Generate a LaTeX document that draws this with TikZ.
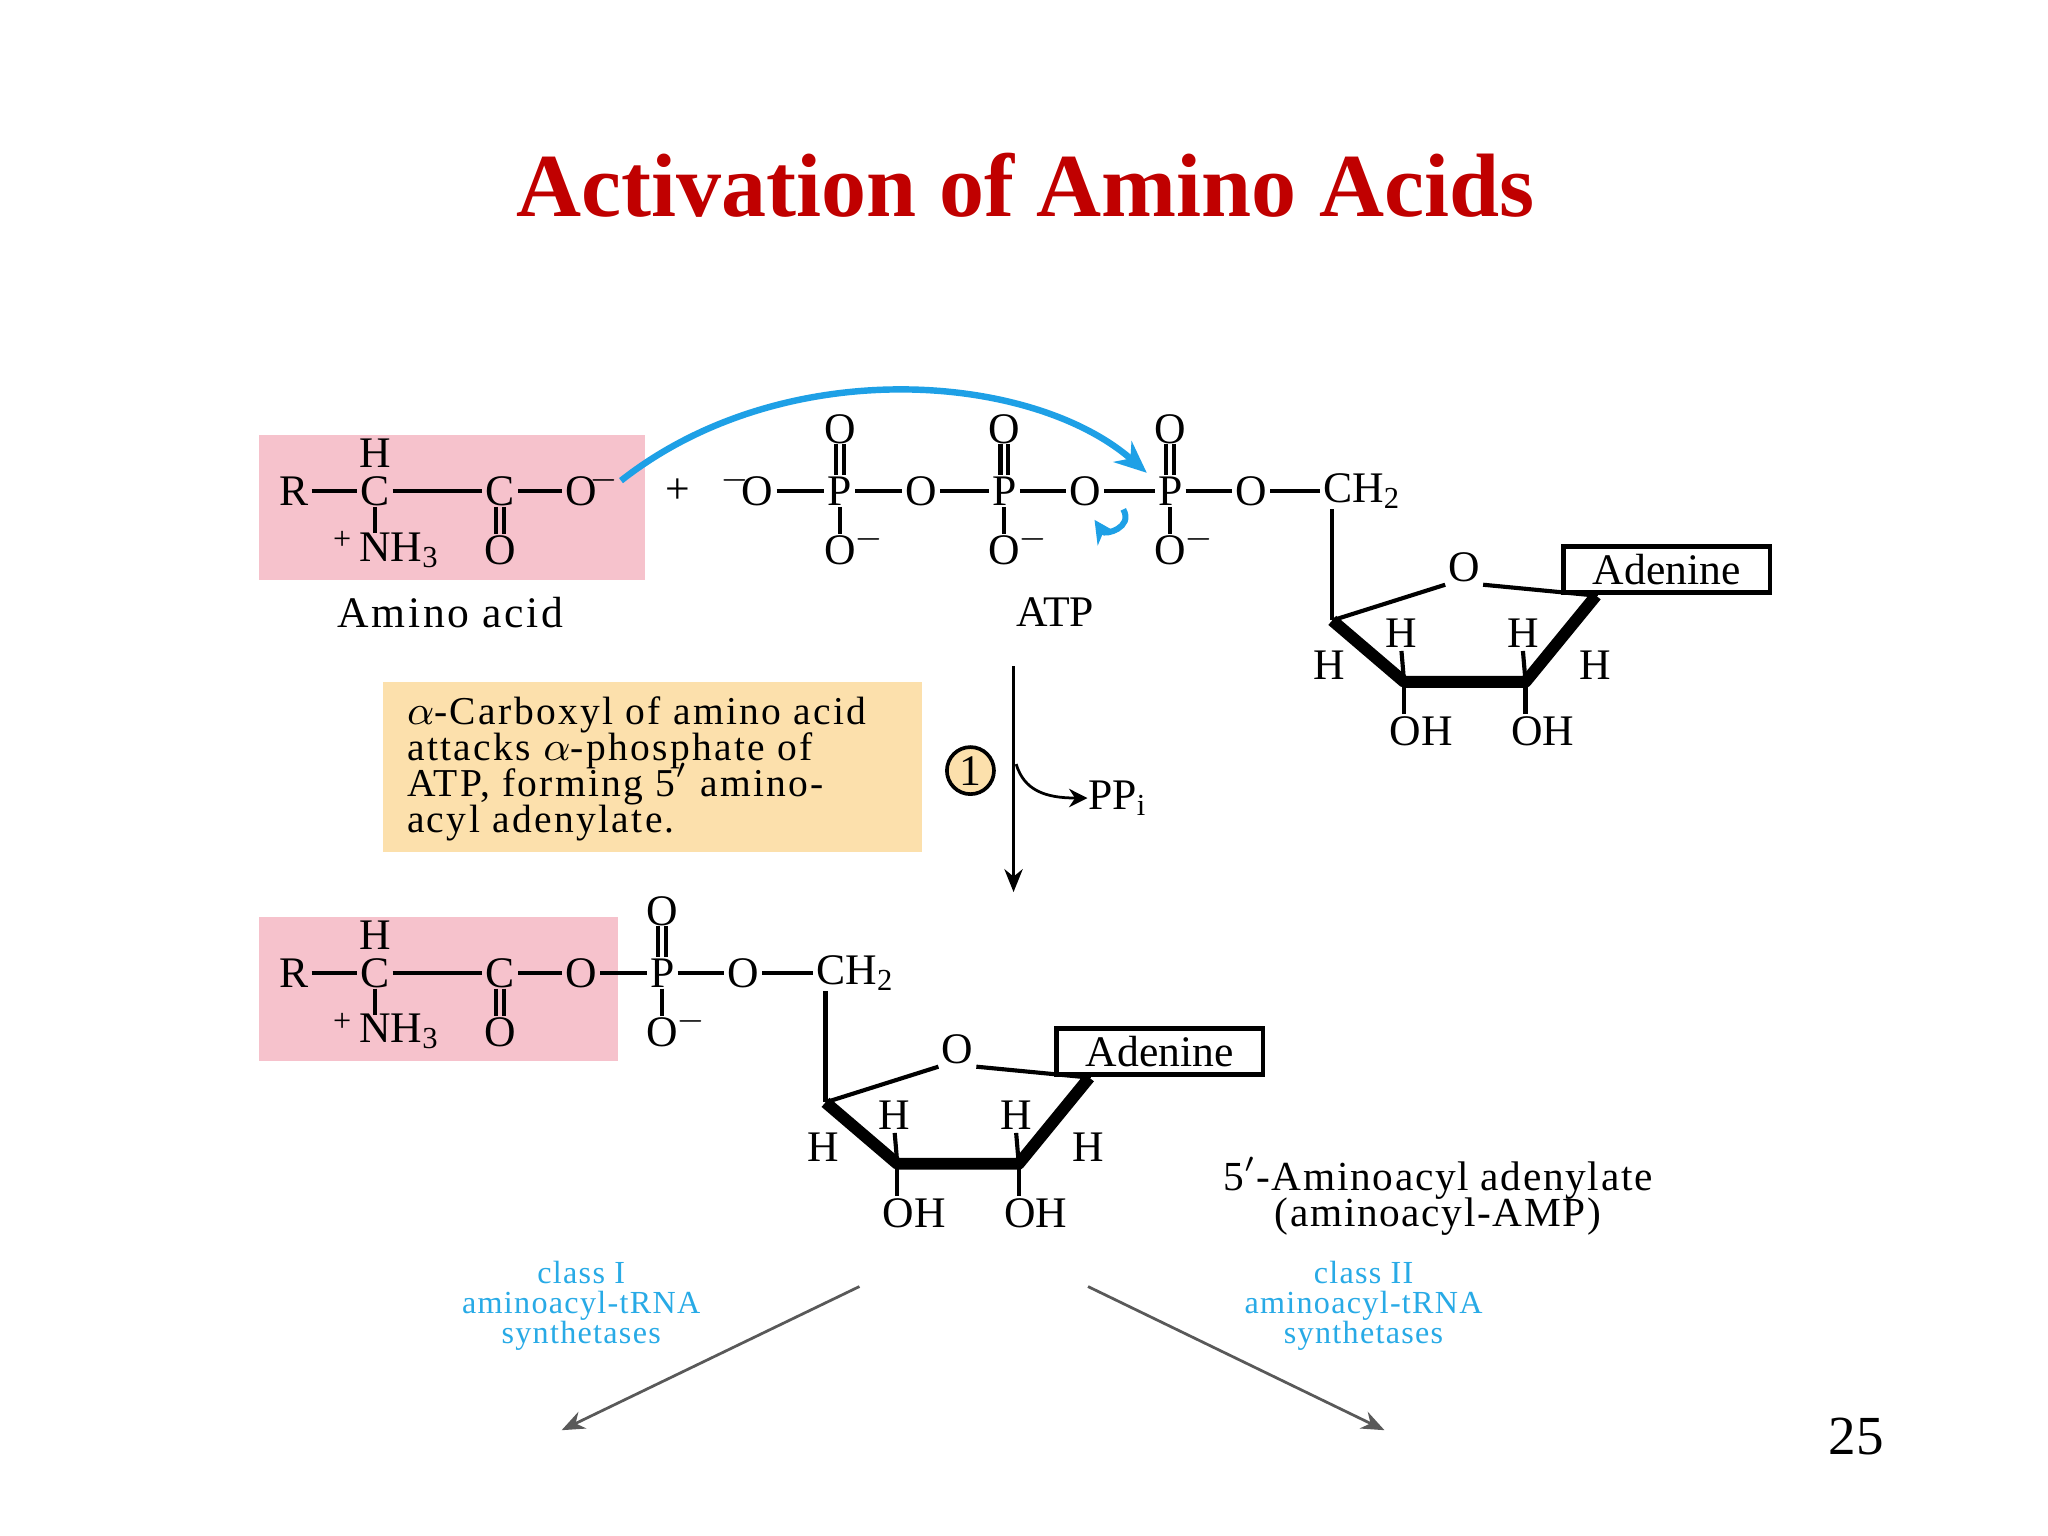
\documentclass[tikz,border=0pt]{standalone}
\usepackage{fontspec}
\setmainfont{Liberation Serif}
\newfontfamily\widefont[LetterSpace=6]{Liberation Serif}
\newfontfamily\midfont[LetterSpace=4]{Liberation Serif}
\newcommand\notefont{\widefont\fontsize{8.6}{7.8}\selectfont\lineskiplimit=-5pt\relax}
\newcommand\prodfont{\midfont\fontsize{9}{7.9}\selectfont\lineskiplimit=-5pt\relax}
\newcommand\clsfont{\midfont\fontsize{7}{6.5}\selectfont\lineskiplimit=-5pt\relax}
\usetikzlibrary{arrows.meta}
\definecolor{titlered}{RGB}{192,0,0}
\definecolor{pinkbox}{RGB}{246,194,204}
\definecolor{yelbox}{RGB}{252,224,172}
\definecolor{arrblue}{RGB}{30,160,230}
\definecolor{lblblue}{RGB}{40,170,230}
\tikzset{
  atom/.style={inner sep=0.5pt, font=\fontsize{9.5}{11}\selectfont},
  bond/.style={line width=0.9pt},
  lbl/.style={font=\fontsize{9.5}{11}\selectfont, inner sep=0pt},
  cls/.style={font=\clsfont, text=lblblue, align=center, inner sep=0pt},
  rxn/.style={-{Stealth[length=5pt,width=4pt]}, line width=0.6pt, draw=gray!70!black}
}
\newcommand\myribose[1]{%
  \coordinate (#1c4) at (1020,475);
  \node[atom] (#1o) at (1121,434) {O};
  \coordinate (#1c1) at (1222,456);
  \coordinate (#1c2) at (1168,522);
  \coordinate (#1c3) at (1075,522);
  \draw[bond] (1020,390) -- (#1c4);
  \draw[bond] (#1c4) -- (#1o.south west);
  \draw[bond] (#1o.south east) -- (#1c1);
  \draw[line width=2.6pt, line join=round] (#1c4) -- (#1c3) -- (#1c2) -- (#1c1);
  \node[atom] (#1h3) at (1073,485) {H};
  \node[atom] (#1h2) at (1166,485) {H};
  \node[atom] (#1h4) at (1018,509) {H};
  \node[atom] (#1h1) at (1221,509) {H};
  \draw[bond] (#1h3.south) -- (#1c3);
  \draw[bond] (#1h2.south) -- (#1c2);
  \node[atom] (#1oh3) at (1088,560) {OH};
  \node[atom] (#1oh2) at (1181,560) {OH};
  \draw[bond] (#1c3) -- (#1c3 |- #1oh3.north);
  \draw[bond] (#1c2) -- (#1c2 |- #1oh2.north);
  \node[draw, line width=1pt, minimum width=1.58cm, minimum height=0.35cm, atom] (#1ad) at (1276,436) {Adenine};
  \draw[bond] (#1c1) -- (#1c1 |- #1ad.south);
}
\newcommand\myacid[1]{%
  \node[atom] (#1R) at (225,376) {R};
  \node[atom] (#1C1) at (287,376) {C};
  \node[atom] (#1C2) at (383,376) {C};
  \node[atom] (#1H) at (287,347) {H};
  \node[atom] (#1N) at (306,421) {NH\textsubscript{3}};
  \node[atom,font=\fontsize{7}{8}\selectfont] (#1plus) at (262,414) {+};
  \node[atom] (#1Od) at (383,421) {O};
  \draw[bond] (#1R.east) -- (#1C1.west);
  \draw[bond] (#1C1.east) -- (#1C2.west);
  \draw[bond] (287,388) -- (287,408);
  \draw[bond] (380,388) -- (380,409);
  \draw[bond] (386,388) -- (386,409);
}
\begin{document}
\begin{tikzpicture}[x=0.01cm,y=-0.01cm]
\useasboundingbox (0,0) rectangle (1568,1176);
\fill[white] (0,0) rectangle (1568,1176);
\node[font=\fontsize{19.6}{23}\selectfont\bfseries, text=titlered] (title) at (785,142) {Activation of Amino Acids};

% ---- top reactants
\fill[pinkbox] (198,333) rectangle (494,444);
\begin{scope}
\myacid{a}
\node[atom] (aO) at (445,376) {O};
\node[atom,font=\fontsize{7}{8}\selectfont] (aOm) at (462,368) {$-$};
\draw[bond] (aC2.east) -- (aO.west);
\end{scope}
\node[lbl, font=\widefont\fontsize{9.5}{11}\selectfont] (aalbl) at (345,469) {Amino acid};
\node[atom] (plus) at (519,376) {+};
\node[atom] (om) at (580,376) {O};
\node[atom,font=\fontsize{7}{8}\selectfont] (omm) at (563,368) {$-$};
\node[atom] (p1) at (643,376) {P};
\node[atom] (o1) at (705,376) {O};
\node[atom] (p2) at (769,376) {P};
\node[atom] (o2) at (831,376) {O};
\node[atom] (p3) at (896,376) {P};
\node[atom] (o3) at (958,376) {O};
\node[atom] (ch2) at (1043,376) {CH\textsubscript{2}};
\draw[bond] (om.east)--(p1.west) (p1.east)--(o1.west) (o1.east)--(p2.west) (p2.east)--(o2.west) (o2.east)--(p3.west) (p3.east)--(o3.west) (o3.east)--(ch2.west);
\foreach \n/\x in {1/643,2/769,3/896}{
  \node[atom] (up\n) at (\x,329) {O};
  \node[atom] (dn\n) at (\x,421) {O};
  \node[atom,font=\fontsize{7}{8}\selectfont] (dnm\n) at (\x+22,413) {$-$};
  \draw[bond] (\x-3,340) -- (\x-3,364) (\x+3,340) -- (\x+3,364);
  \draw[bond] (\x,388) -- (\x,409);
}
\node[lbl] (atplbl) at (808,469) {ATP};
\myribose{t}
\draw[arrblue, line width=1.4pt, -{Stealth[length=7pt,width=6pt]}] (aOm.east) .. controls (600,270) and (790,285) .. (878,362);
\draw[arrblue, line width=1.3pt, -{Stealth[length=5pt,width=5pt]}] (860,390) .. controls (868,404) and (846,410) .. (838,398);

% ---- step 1
\fill[yelbox] (293,522) rectangle (706,652);
\node[lbl, anchor=north west, align=left, font=\notefont] (note) at (311,533)
 {$\alpha$-Carboxyl of amino acid\\ attacks $\alpha$-phosphate of\\ ATP, forming 5$'$ amino-\\ acyl adenylate.};
\node[draw, circle, fill=yelbox, inner sep=0pt, minimum size=0.36cm, line width=0.8pt, atom] (one) at (743,590) {1};
\coordinate (vtop) at (776,510);
\coordinate (vbot) at (776,683);
\draw[rxn, draw=black] (vtop) -- (vbot);
\node[lbl] (ppi) at (856,611) {PP\textsubscript{i}};
\draw[-{Stealth[length=4pt,width=4pt]}, line width=0.6pt] (778,585) .. controls (784,605) and (800,611) .. (ppi.west);

% ---- product
\fill[pinkbox] (198,702) rectangle (473,812);
\begin{scope}[shift={(0,369)}]
\myacid{b}
\node[atom] (bO) at (445,376) {O};
\node[atom] (bP) at (507,376) {P};
\node[atom] (bO2) at (569,376) {O};
\node[atom] (bch2) at (655,376) {CH\textsubscript{2}};
\draw[bond] (bC2.east)--(bO.west) (bO.east)--(bP.west) (bP.east)--(bO2.west) (bO2.east)--(bch2.west);
\node[atom] (bup) at (507,329) {O};
\node[atom] (bdn) at (507,421) {O};
\node[atom,font=\fontsize{7}{8}\selectfont] (bdnm) at (529,413) {$-$};
\draw[bond] (504,340) -- (504,364) (510,340) -- (510,364);
\draw[bond] (507,388) -- (507,409);
\end{scope}
\begin{scope}[shift={(-388,369)}]
\myribose{b}
\end{scope}
\node[lbl, align=center, font=\prodfont] (prodlbl) at (1101,916) {5$'$-Aminoacyl adenylate\\(aminoacyl-AMP)};

% ---- classes
\node[cls] (c1) at (445,1000) {class I\\aminoacyl-tRNA\\synthetases};
\node[cls] (c2) at (1044,1000) {class II\\aminoacyl-tRNA\\synthetases};
\coordinate (s1) at (658,985); \coordinate (e1) at (430,1095);
\coordinate (s2) at (833,985); \coordinate (e2) at (1060,1095);
\draw[rxn] (s1) -- (e1);
\draw[rxn] (s2) -- (e2);
\node[font=\fontsize{12}{14}\selectfont] (pg) at (1421,1100) {25};
\end{tikzpicture}
\end{document}
